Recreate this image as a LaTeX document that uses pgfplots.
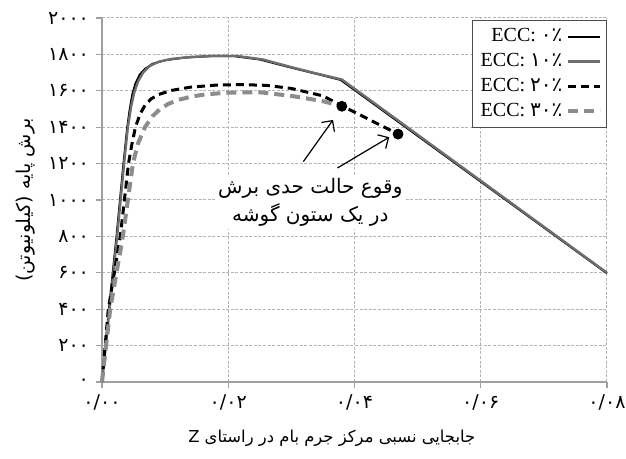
\documentclass[border=0pt]{standalone}
\usepackage{pgfplots}
\pgfplotsset{compat=1.18}
\usepackage{fontspec}
\setmainfont{Liberation Serif}
\newfontfamily\fa[Script=Arabic]{DejaVu Sans}
\TeXXeTstate=1
\usetikzlibrary{arrows.meta}
\definecolor{gline}{HTML}{6E6E6E}
\definecolor{gdash}{HTML}{8C8C8C}
\definecolor{gridc}{HTML}{B4B4B4}
\definecolor{axc}{HTML}{A0A0A0}

\pgfplotstableread{
x y
0 0
0.0011 400
0.0023 800
0.0034 1200
0.0040 1400
0.0044 1500
0.0048 1580
0.0053 1640
0.0060 1690
0.0068 1720
0.0080 1748
0.0100 1768
0.0130 1782
0.0170 1790
0.0210 1790
0.0250 1772
0.0300 1727
0.0340 1693
0.0378 1660
0.0800 597
}\eccA
\pgfplotstableread{
x y
0 0
0.0012 400
0.0024 800
0.0035 1200
0.0041 1400
0.0046 1510
0.0051 1590
0.0057 1650
0.0065 1700
0.0075 1735
0.0090 1760
0.0110 1775
0.0140 1786
0.0180 1792
0.0215 1791
0.0255 1772
0.0300 1730
0.0340 1695
0.0380 1662
0.0800 600
}\eccB
\pgfplotstableread{
x y
0 0
0.0010 400
0.0029 800
0.0042 1200
0.0047 1300
0.0053 1400
0.0060 1470
0.0068 1520
0.0078 1556
0.0090 1580
0.0110 1602
0.0140 1620
0.0180 1631
0.0220 1634
0.0260 1630
0.0300 1613
0.0350 1572
0.0380 1518
0.0469 1362
}\eccC
\pgfplotstableread{
x y
0 0
0.0013 400
0.0023 600
0.0033 800
0.0041 1000
0.0049 1200
0.0057 1310
0.0068 1400
0.0080 1460
0.0092 1500
0.0105 1528
0.0121 1550
0.0140 1567
0.0163 1580
0.0200 1590
0.0250 1592
0.0300 1572
0.0350 1543
0.0380 1515
}\eccD
\pgfplotstableread{
x y
0.0380 1515
0.0469 1362
}\dots

\begin{document}
\begin{tikzpicture}
\path[use as bounding box] (-51pt,-38.5pt) rectangle (262pt,191pt);
\begin{axis}[
  scale only axis,
  width=252.5pt, height=182pt,
  xmin=0, xmax=0.08, ymin=0, ymax=2000,
  scaled x ticks=false, scaled y ticks=false,
  axis x line=bottom, axis y line=left,
  axis line style={axc, line width=0.8pt, -},
  xtick={0,0.02,0.04,0.06,0.08},
  xticklabels={۰/۰۰,۰/۰۲,۰/۰۴,۰/۰۶,۰/۰۸},
  ytick={0,200,...,2000},
  yticklabels={۰,۲۰۰,۴۰۰,۶۰۰,۸۰۰,۱۰۰۰,۱۲۰۰,۱۴۰۰,۱۶۰۰,۱۸۰۰,۲۰۰۰},
  tick label style={font=\fa\fontsize{9.5}{10}\selectfont, black},
  tick align=outside, major tick length=3pt,
  tick style={axc, line width=0.6pt},
  xmajorgrids, ymajorgrids,
  major grid style={gridc, line width=0.5pt, dash pattern=on 1.5pt off 0.8pt},
  xlabel={\beginR جابجایی نسبی مرکز جرم بام در راستای Z\endR},
  xlabel style={font=\fa\fontsize{8.2}{10}\selectfont, at={(axis description cs:0.455,-0.154)}, anchor=center},
  ylabel={\beginR برش پایه (کیلونیوتن)\endR},
  ylabel style={font=\fa\fontsize{9.5}{10}\selectfont, at={(axis description cs:-0.152,0.5)}, anchor=center},
  legend style={at={(rel axis cs:1,0.995)}, anchor=north east, draw=black!70, line width=0.6pt,
    font=\fontsize{10}{12}\selectfont, inner sep=2pt, row sep=0.3pt, fill=white},
  legend cell align=right,
  legend plot pos=right,
  legend image code/.code={\draw[#1] (0pt,0pt) -- (16pt,0pt);},
  clip=false,
]
\addplot[black, line width=1.0pt] table {\eccA};
\addlegendentry{ECC: {\fa ۰٪}}
\addplot[gline, line width=1.2pt] table {\eccB};
\addlegendentry{ECC: {\fa ۱۰٪}}
\addplot[black, line width=1.5pt, dash pattern=on 4pt off 2.5pt] table {\eccC};
\addlegendentry{ECC: {\fa ۲۰٪}}
\addplot[gdash, line width=2pt, dash pattern=on 5pt off 3pt] table {\eccD};
\addlegendentry{ECC: {\fa ۳۰٪}}
\addplot[only marks, mark=*, mark size=2.5pt, black, forget plot] table {\dots};
\draw[-{Straight Barb[length=4pt]}, line width=0.6pt] (axis cs:0.0319,1211) -- (axis cs:0.0366,1440);
\draw[-{Straight Barb[length=4pt]}, line width=0.6pt] (axis cs:0.0373,1176) -- (axis cs:0.0455,1345);
\node[font=\fa\fontsize{10}{14}\selectfont, align=center, fill=white, inner sep=1pt] at (axis cs:0.033,985)
  {\beginR وقوع حالت حدی برش\endR\\\beginR در یک ستون گوشه\endR};
\end{axis}
\end{tikzpicture}
\end{document}
